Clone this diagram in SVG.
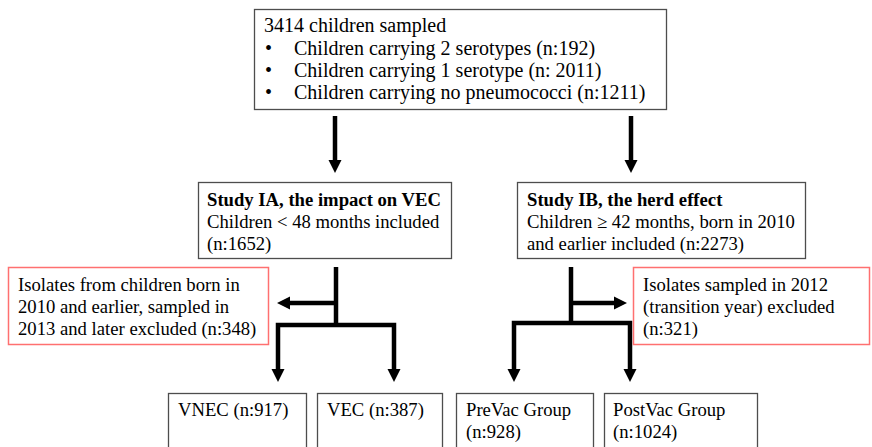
<svg xmlns="http://www.w3.org/2000/svg" width="872" height="447" viewBox="0 0 872 447">
<style>
text{font-family:"Liberation Serif","Times New Roman",serif;font-size:18.67px;fill:#000}
.t{font-size:20px}
.b{font-weight:bold}
.box{fill:#fff;stroke:#4d4d4d;stroke-width:1.3}
.red{fill:#fff;stroke:#ff7070;stroke-width:1.5}
.con{fill:none;stroke:#000;stroke-width:4.5;stroke-linejoin:miter}
.arr{marker-end:url(#ah)}
</style>
<defs>
<marker id="ah" markerUnits="userSpaceOnUse" markerWidth="14" markerHeight="14" viewBox="0 0 14 14" refX="0" refY="7" orient="auto-start-reverse">
<path d="M0,0.5 L13,7 L0,13.5 z" fill="#000"/>
</marker>
</defs>
<rect width="872" height="447" fill="#fff"/>
<g id="connectors">
<path class="con arr" d="M335,116 V160"/>
<path class="con arr" d="M631,116 V160"/>
<path class="con" d="M336,267 V325"/>
<path class="con arr" d="M336,303 H290"/>
<path class="con" d="M278,369 V325 H394 V369" style="marker-start:url(#ah);marker-end:url(#ah)"/>
<path class="con" d="M571,267 V323"/>
<path class="con arr" d="M571,303 H614"/>
<path class="con" d="M514,369 V323 H630 V369" style="marker-start:url(#ah);marker-end:url(#ah)"/>
</g>
<g id="top">
<rect class="box" x="254.5" y="9.5" width="412" height="100"/>
<text class="t" x="264" y="32">3414 children sampled</text>
<text class="t" x="265" y="55">•</text><text class="t" x="294" y="55">Children carrying 2 serotypes (n:192)</text>
<text class="t" x="265" y="77">•</text><text class="t" x="294" y="77">Children carrying 1 serotype (n: 2011)</text>
<text class="t" x="265" y="99">•</text><text class="t" x="294" y="99">Children carrying no pneumococci (n:1211)</text>
</g>
<g id="studyIA">
<rect class="box" x="198.5" y="182.5" width="253" height="76"/>
<text class="b" x="207" y="206">Study IA, the impact on VEC</text>
<text x="207" y="228">Children &lt; 48 months included</text>
<text x="207" y="250">(n:1652)</text>
</g>
<g id="studyIB">
<rect class="box" x="517.5" y="182.5" width="288" height="76"/>
<text class="b" x="527" y="206">Study IB, the herd effect</text>
<text x="527" y="228">Children ≥ 42 months, born in 2010</text>
<text x="527" y="250">and earlier included (n:2273)</text>
</g>
<g id="exclA">
<rect class="red" x="8.5" y="267.5" width="260" height="77"/>
<text x="18" y="291">Isolates from children born in</text>
<text x="18" y="313">2010 and earlier, sampled in</text>
<text x="18" y="335">2013 and later excluded (n:348)</text>
</g>
<g id="exclB">
<rect class="red" x="633.5" y="267.5" width="236" height="77"/>
<text x="643" y="291">Isolates sampled in 2012</text>
<text x="643" y="313">(transition year) excluded</text>
<text x="643" y="335">(n:321)</text>
</g>
<g id="vnec">
<rect class="box" x="168.5" y="393.5" width="138" height="60"/>
<text x="178" y="416">VNEC (n:917)</text>
</g>
<g id="vec">
<rect class="box" x="317.5" y="393.5" width="125" height="60"/>
<text x="327" y="416">VEC (n:387)</text>
</g>
<g id="prevac">
<rect class="box" x="456.5" y="393.5" width="137" height="60"/>
<text x="466" y="416">PreVac Group</text>
<text x="466" y="438">(n:928)</text>
</g>
<g id="postvac">
<rect class="box" x="604.5" y="393.5" width="153" height="60"/>
<text x="613" y="416">PostVac Group</text>
<text x="613" y="438">(n:1024)</text>
</g>
</svg>
